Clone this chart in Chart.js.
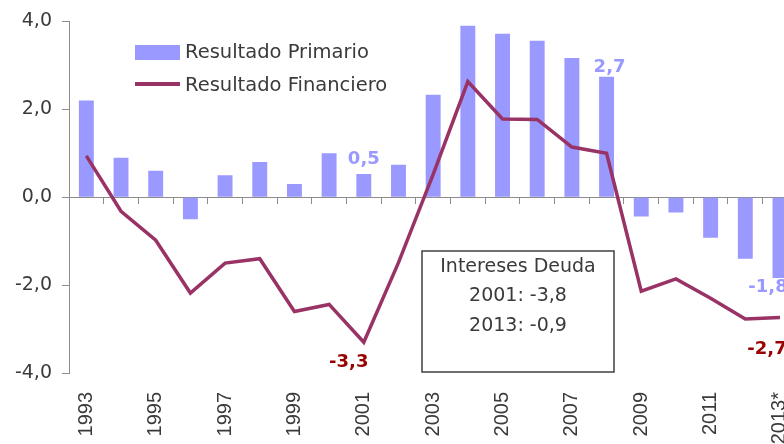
<!DOCTYPE html>
<html>
<head>
<meta charset="utf-8">
<script src="https://cdn.jsdelivr.net/npm/chart.js@4.4.1/dist/chart.umd.min.js"></script>
<style>
  html, body { margin: 0; padding: 0; background: #fff; overflow: hidden; }
  #wrap { width: 784px; height: 444px; overflow: hidden; position: relative; }
  canvas { display: block; }
</style>
</head>
<body>
<div id="wrap"><canvas id="c" width="823" height="444"></canvas></div>
<script>
// ---- data ----
const years = ['1993','1994','1995','1996','1997','1998','1999','2000','2001','2002','2003','2004','2005','2006','2007','2008','2009','2010','2011','2012','2013*'];
const primario = [2.2, 0.9, 0.6, -0.5, 0.5, 0.8, 0.3, 1.0, 0.53, 0.74, 2.33, 3.9, 3.72, 3.56, 3.17, 2.74, -0.44, -0.35, -0.92, -1.4, -1.84];
const financiero = [0.94, -0.32, -0.98, -2.18, -1.5, -1.4, -2.6, -2.44, -3.3, -1.49, 0.52, 2.63, 1.78, 1.77, 1.14, 1.0, -2.14, -1.86, -2.3, -2.77, -2.74];
const yTicks = [-4, -2, 0, 2, 4];
const seriesNames = ['Resultado Primario', 'Resultado Financiero'];
const boxLines = ['Intereses Deuda', '2001: -3,8', '2013: -0,9'];
const primLabelYears = ['2001', '2008', '2013*'];
const finLabelYears = ['2001', '2013*'];

// ---- style ----
const BAR_COLOR = '#9999FF';
const LINE_COLOR = '#993366';
const LABEL_RED = '#990000';
const TEXT = '#3a3a3a';
const AXIS = '#8c8c8c';
const FONT = '"DejaVu Sans", sans-serif';

const fmt = v => v.toFixed(1).replace('.', ',');

const primOffsets = { '2001': [0, -15], '2008': [3, -9], '2013*': [-12, 9] };
const finOffsets = { '2001': [-15, 20], '2013*': [-13, 32] };

const overlay = {
  id: 'overlay',
  afterDatasetsDraw(chart) {
    const ctx = chart.ctx;
    const barMeta = chart.getDatasetMeta(0);
    const lineMeta = chart.getDatasetMeta(1);
    ctx.save();
    ctx.textAlign = 'center';
    ctx.textBaseline = 'middle';
    ctx.font = 'bold 18px ' + FONT;
    // bar labels
    primLabelYears.forEach(yr => {
      const i = years.indexOf(yr);
      const el = barMeta.data[i];
      const v = primario[i];
      const off = primOffsets[yr];
      const yEdge = v >= 0 ? Math.min(el.y, el.base) : Math.max(el.y, el.base);
      ctx.fillStyle = BAR_COLOR;
      ctx.fillText(fmt(v), el.x + off[0], yEdge + off[1]);
    });
    // line labels
    finLabelYears.forEach(yr => {
      const i = years.indexOf(yr);
      const el = lineMeta.data[i];
      const off = finOffsets[yr];
      ctx.fillStyle = LABEL_RED;
      ctx.fillText(fmt(financiero[i]), el.x + off[0], el.y + off[1]);
    });
    // legend
    ctx.textAlign = 'left';
    ctx.font = '19.5px ' + FONT;
    ctx.fillStyle = BAR_COLOR;
    ctx.fillRect(135, 45, 45, 15);
    ctx.fillStyle = TEXT;
    ctx.fillText(seriesNames[0], 185, 53);
    ctx.strokeStyle = LINE_COLOR;
    ctx.lineWidth = 4;
    ctx.beginPath();
    ctx.moveTo(135, 84); ctx.lineTo(180, 84);
    ctx.stroke();
    ctx.fillText(seriesNames[1], 185, 86);
    // text box
    ctx.fillStyle = '#ffffff';
    ctx.fillRect(422, 251, 192, 121);
    ctx.strokeStyle = '#404040';
    ctx.lineWidth = 1.5;
    ctx.strokeRect(422, 251, 192, 121);
    ctx.fillStyle = TEXT;
    ctx.textAlign = 'center';
    ctx.font = '19px ' + FONT;
    boxLines.forEach((t, k) => ctx.fillText(t, 518, 267 + k * 29.5));
    ctx.restore();
  }
};

new Chart(document.getElementById('c'), {
  data: {
    labels: years,
    datasets: [
      { type: 'bar', label: seriesNames[0], data: primario, backgroundColor: BAR_COLOR, borderWidth: 0,
        barPercentage: 0.43, categoryPercentage: 1.0, order: 2 },
      { type: 'line', label: seriesNames[1], data: financiero, borderColor: LINE_COLOR, borderWidth: 3.5,
        pointRadius: 0, tension: 0, fill: false, borderJoinStyle: 'miter', order: 1 }
    ]
  },
  options: {
    responsive: false,
    animation: false,
    devicePixelRatio: 1,
    layout: { padding: { top: 21, right: 1, left: 0, bottom: 0 } },
    plugins: { legend: { display: false }, tooltip: { enabled: false }, title: { display: false } },
    scales: {
      x: {
        type: 'category',
        position: 'bottom',
        offset: true,
        grid: { display: false, drawTicks: false },
        border: { display: false },
        ticks: {
          autoSkip: false, maxRotation: 90, minRotation: 90, padding: 19,
          color: TEXT, font: { family: '"Liberation Sans", Arial, sans-serif', size: 20 },
          callback: function(val, idx) { return idx % 2 === 0 ? this.getLabelForValue(val) : ''; }
        },
        afterFit: s => { s.height = 71; }
      },
      x2: {
        type: 'category',
        position: { y: 0 },
        offset: true,
        grid: { display: true, drawOnChartArea: false, drawTicks: true, tickLength: 6, color: AXIS, offset: true },
        border: { display: true, color: AXIS, width: 1 },
        ticks: { display: false, autoSkip: false }
      },
      y: {
        min: -4, max: 4,
        afterBuildTicks: s => { s.ticks = yTicks.map(v => ({ value: v })); },
        grid: { display: true, drawOnChartArea: false, drawTicks: true, tickLength: 7, color: AXIS },
        border: { display: true, color: AXIS, width: 1 },
        ticks: { padding: 10, color: TEXT, font: { family: FONT, size: 19 }, callback: v => fmt(v) },
        afterFit: s => { s.width = 69; }
      }
    }
  },
  plugins: [overlay]
});
</script>
</body>
</html>
